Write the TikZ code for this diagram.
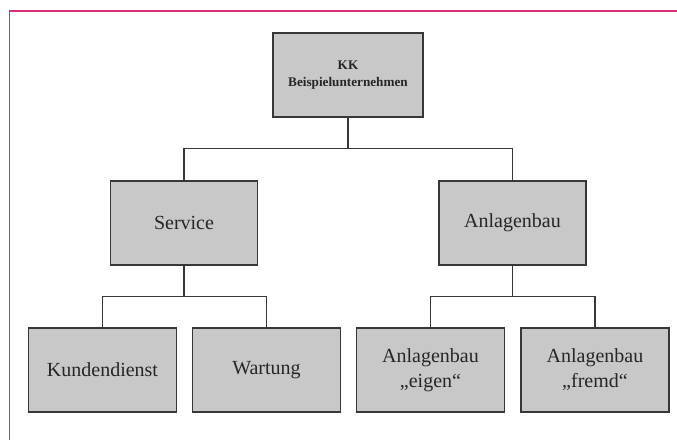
\documentclass[tikz,border=0pt]{standalone}
\usepackage{fontspec}
\setmainfont{Liberation Serif}
\usepackage{xcolor}
\usepackage{tikz}
\usetikzlibrary{positioning}

\definecolor{boxfill}{RGB}{200,200,200}
\definecolor{boxline}{RGB}{55,55,55}
\definecolor{framecol}{RGB}{214,45,125}

\begin{document}
\begin{tikzpicture}[
  x=0.5pt, y=-0.5pt,
  box/.style={draw=boxline, fill=boxfill, line width=0.8pt, align=center,
              font=\fontsize{10}{12.5}\selectfont, text=black!85,
              minimum width=74pt, minimum height=42pt, inner sep=2pt},
  conn/.style={draw=boxline, line width=0.6pt}]
\useasboundingbox (0,0) rectangle (677,440);
\draw[framecol, line width=0.9pt] (677,11) -- (9.5,11) -- (9.5,440);
\node[box, minimum width=75pt, font=\fontsize{6.6}{8.5}\selectfont\bfseries] (kk) at (348,75) {KK\\Beispielunternehmen};
\node[box, minimum width=73.5pt] (serv) at (184,223) {Service};
\node[box, minimum width=73.5pt] (anl) at (512.5,223) {Anlagenbau};
\node[box] (kund) at (102.5,370) {Kundendienst};
\node[box] (wart) at (266.5,370) {Wartung};
\node[box] (eig) at (430.5,370) {Anlagenbau\\„eigen“};
\node[box] (fre) at (595,370) {Anlagenbau\\„fremd“};
\foreach \a/\b in {kk/serv,kk/anl,serv/kund,serv/wart,anl/eig,anl/fre}
  \draw[conn] (\a.south) -- ++(0,31) -| (\b.north);
\end{tikzpicture}
\end{document}
